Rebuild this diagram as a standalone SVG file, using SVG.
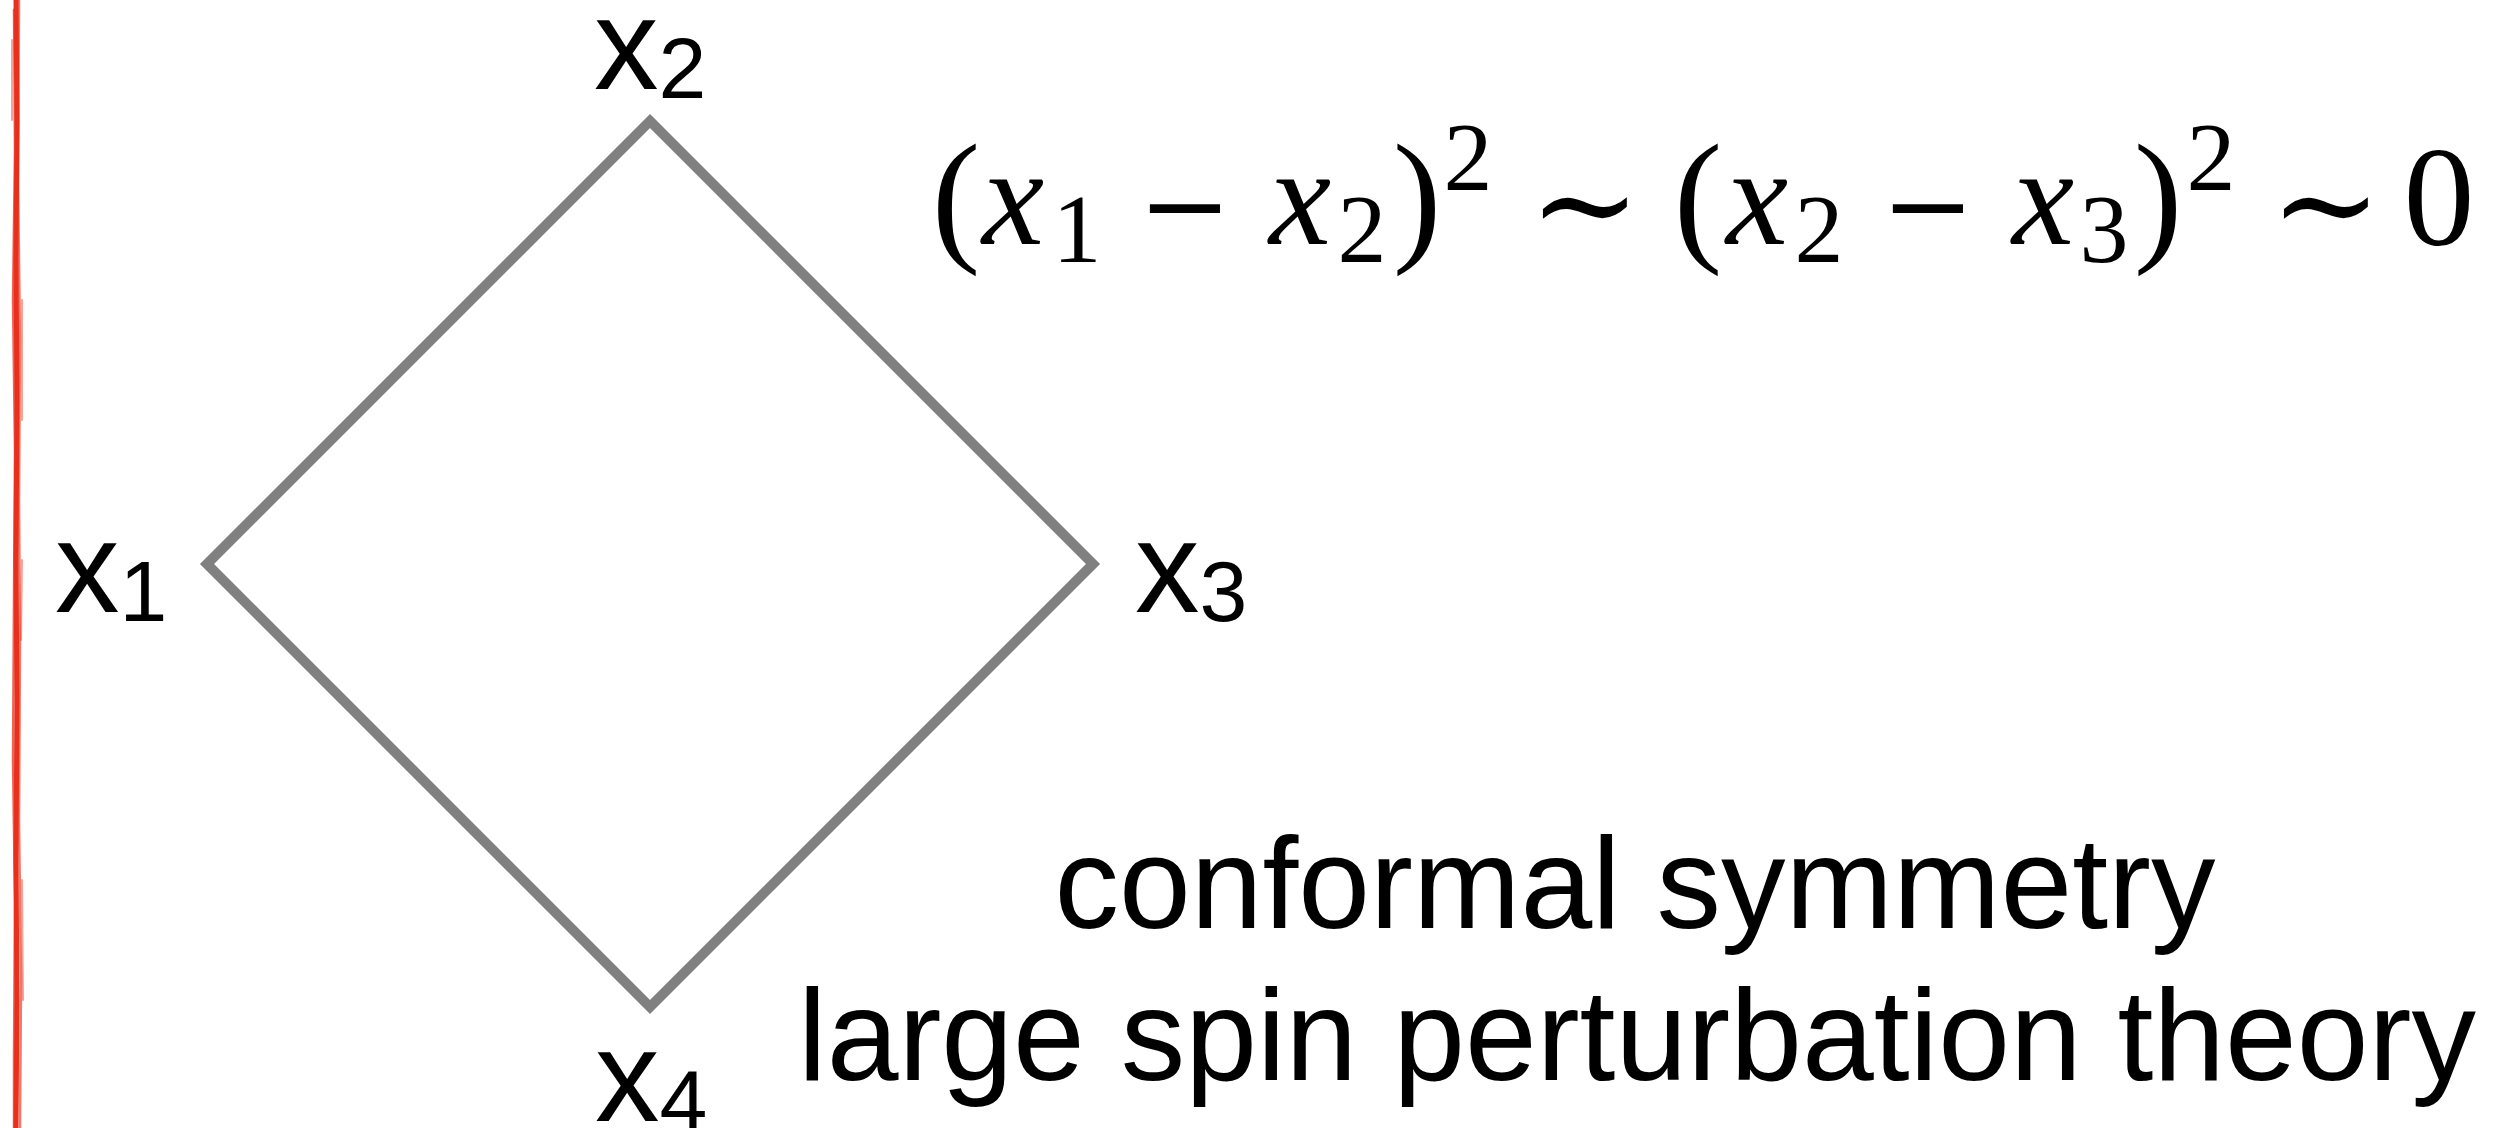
<svg xmlns="http://www.w3.org/2000/svg" width="2493" height="1128" viewBox="0 0 2493 1128">
<style>
.lbl{font-family:"Liberation Sans",Arial,sans-serif;fill:#000;font-size:129px}
.sub{font-size:86px}
.m{font-family:"Liberation Serif","DejaVu Serif",serif;fill:#000;text-anchor:middle}
.mi{font-style:italic;font-size:140px}
.mn{font-size:142px}
.ms{font-size:98px}
.mp{font-size:146px}
.mt{font-family:"DejaVu Serif",serif;font-size:134px}
.mm{font-family:"DejaVu Serif",serif;font-size:112px}
.txt{font-family:"Liberation Sans",Arial,sans-serif;font-size:129px;fill:#000;text-anchor:middle}
.red{fill:none;stroke:#e8301c;stroke-linecap:round}
</style>
<rect width="2493" height="1128" fill="#fff"/>
<g id="margin-line">
<path class="red" stroke-width="5" d="M16,0 L17,120 L16,260 L17,400 L16,560 L17,700 L16,860 L17,1000 L16,1128"/>
<path class="red" stroke-width="2.5" opacity="0.75" d="M14,10 L15,150 L13,300 L15,450 L14,600 L13,760 L15,900 L14,1060 L14,1128"/>
<path class="red" stroke-width="2.5" opacity="0.65" d="M19,0 L18,180 L20,340 L19,500 L20,640 L19,820 L21,980 L20,1128"/>
<path class="red" stroke-width="2" opacity="0.45" d="M22,300 L22,420 M22,880 L23,1000 M12,40 L12,120 M22,560 L21,640"/>
</g>
<g id="connectors">
<polygon points="650,121 1093,564 650,1007 207,564" fill="none" stroke="#808080" stroke-width="10" stroke-linejoin="miter"/>
</g>
<g id="node-x1"><text class="lbl" x="55" y="612">x<tspan class="sub" dy="9">1</tspan></text></g>
<g id="node-x2"><text class="lbl" x="594" y="89">x<tspan class="sub" dy="9">2</tspan></text></g>
<g id="node-x3"><text class="lbl" x="1135" y="612">x<tspan class="sub" dy="9">3</tspan></text></g>
<g id="node-x4"><text class="lbl" x="595" y="1121">x<tspan class="sub" dy="9">4</tspan></text></g>
<g id="formula">
<text class="m mp" x="956" y="245">(</text>
<text class="m mi" x="1013" y="244">x</text>
<text class="m ms" x="1077" y="262">1</text>
<text class="m mm" x="1185" y="244">−</text>
<text class="m mi" x="1300" y="244">x</text>
<text class="m ms" x="1362" y="262">2</text>
<text class="m mp" x="1417" y="245">)</text>
<text class="m ms" x="1468" y="190">2</text>
<text class="m mt" x="1585" y="250">∼</text>
<text class="m mp" x="1698" y="245">(</text>
<text class="m mi" x="1757" y="244">x</text>
<text class="m ms" x="1819" y="262">2</text>
<text class="m mm" x="1928" y="244">−</text>
<text class="m mi" x="2043" y="244">x</text>
<text class="m ms" x="2104" y="262">3</text>
<text class="m mp" x="2158" y="245">)</text>
<text class="m ms" x="2211" y="190">2</text>
<text class="m mt" x="2326" y="250">∼</text>
<text class="m mn" x="2439" y="245">0</text>
</g>
<g id="captions">
<text class="txt" x="1635" y="928">conformal symmetry</text>
<text class="txt" x="1637" y="1080">large spin perturbation theory</text>
</g>
</svg>
